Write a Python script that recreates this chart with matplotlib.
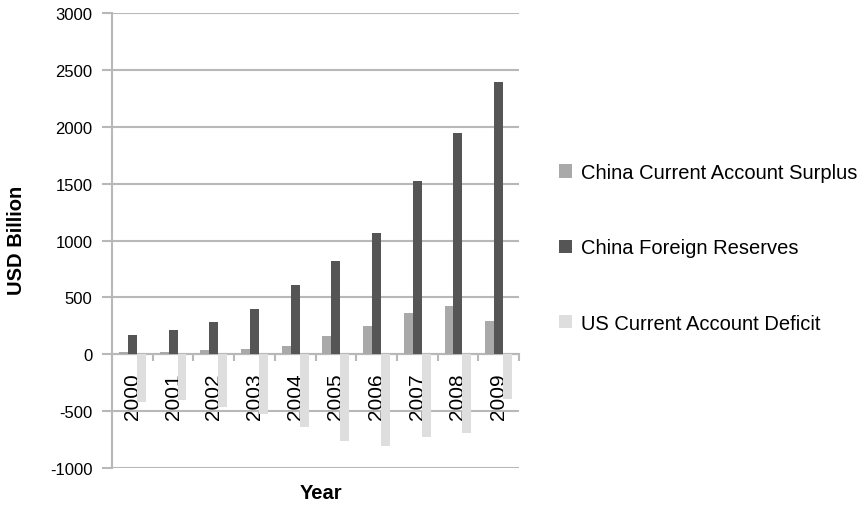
import matplotlib
matplotlib.use("Agg")
import matplotlib.pyplot as plt
import numpy as np

# data (USD billion)
years = ["2000", "2001", "2002", "2003", "2004", "2005", "2006", "2007", "2008", "2009"]
china_surplus = [20, 17, 35, 46, 69, 160, 245, 365, 425, 290]
china_reserves = [166, 212, 286, 403, 610, 819, 1066, 1528, 1946, 2399]
us_deficit = [-420, -400, -460, -525, -640, -760, -810, -730, -690, -395]
y_ticks = [-1000, -500, 0, 500, 1000, 1500, 2000, 2500, 3000]

plt.rcParams["font.family"] = ["Liberation Sans", "DejaVu Sans"]
plt.rcParams["axes.unicode_minus"] = False

fig = plt.figure(figsize=(8.65, 5.06), dpi=100)
ax = fig.add_axes([0.1295, 0.073, 0.4705, 0.899])

x = np.arange(len(years))
w = 0.22
grid_col = "#b8b8b8"

ax.bar(x - w, china_surplus, w, color="#a9a9a9", label="China Current Account Surplus", zorder=3)
ax.bar(x, china_reserves, w, color="#555555", label="China Foreign Reserves", zorder=3)
ax.bar(x + w, us_deficit, w, color="#dedede", label="US Current Account Deficit", zorder=3)

ax.set_xlim(-0.5, len(years) - 0.5)
ax.set_ylim(-1000, 3000)
ax.set_yticks(y_ticks)
ax.yaxis.grid(True, color=grid_col, linewidth=1.5, zorder=0)

# x axis sits on the zero line, ticks between categories
ax.spines["bottom"].set_position(("data", 0))
ax.spines["bottom"].set_color(grid_col)
ax.spines["bottom"].set_linewidth(1.5)
ax.spines["left"].set_color(grid_col)
ax.spines["left"].set_linewidth(1.5)
ax.spines["top"].set_visible(False)
ax.spines["right"].set_visible(False)

ax.set_xticks(np.arange(len(years) + 1) - 0.5)
ax.set_xticklabels([])
ax.set_xticks(x, minor=True)
ax.set_xticklabels(years, minor=True, rotation=90, fontsize=15, va="top")
ax.tick_params(axis="x", which="major", length=5, color=grid_col, width=1.5)
ax.tick_params(axis="x", which="minor", length=0, pad=13)
ax.tick_params(axis="y", length=7, color=grid_col, width=1.5, labelsize=12, pad=7)

fig.text(0.0185, 0.524, "USD Billion", fontsize=14.5, fontweight="bold",
         rotation=90, ha="center", va="center")
fig.text(0.371, 0.024, "Year", fontsize=14.5, fontweight="bold", ha="center", va="center")

ax.legend(loc="center left", bbox_to_anchor=(0.625, 0.508), bbox_transform=fig.transFigure,
          frameon=False, fontsize=14.5, handlelength=0.65, handleheight=0.65,
          handletextpad=0.45, labelspacing=2.8)

fig.savefig("out.png", dpi=100)
